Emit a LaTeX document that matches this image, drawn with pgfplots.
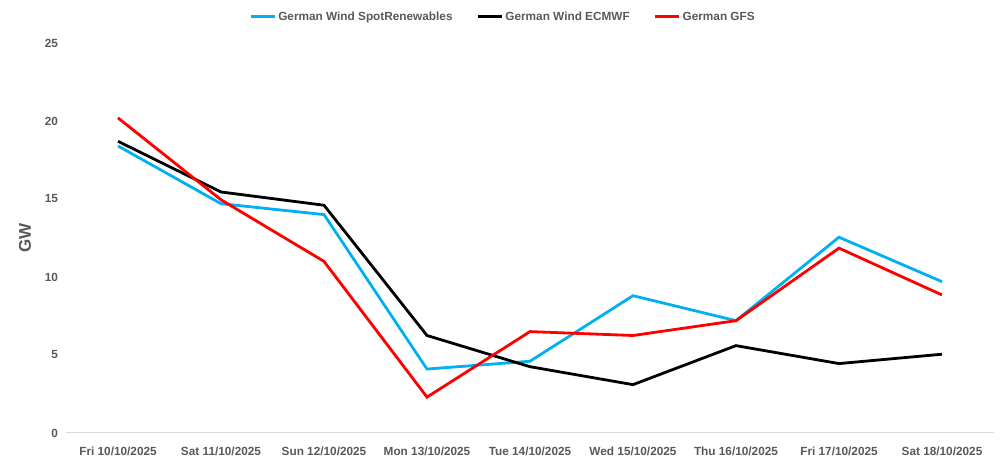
\documentclass[border=0pt]{standalone}
\usepackage{fontspec}
\setmainfont{Liberation Sans}
\usepackage{pgfplots}
\pgfplotsset{compat=1.18}
\definecolor{txtgray}{HTML}{595959}
\definecolor{spotblue}{HTML}{00B0F0}
\definecolor{basegray}{HTML}{D9D9D9}
\begin{document}
\begin{tikzpicture}
\begin{axis}[
    scale only axis,
    width=927pt, height=390pt,
    xmin=-0.5, xmax=8.5,
    ymin=0, ymax=25,
    xtick={0,...,8},
    xticklabels={Fri 10/10/2025,Sat 11/10/2025,Sun 12/10/2025,Mon 13/10/2025,Tue 14/10/2025,Wed 15/10/2025,Thu 16/10/2025,Fri 17/10/2025,Sat 18/10/2025},
    ytick={0,5,...,25},
    major tick length=0pt,
    axis lines*=left,
    y axis line style={draw=none},
    x axis line style={draw=basegray, line width=1pt},
    tick label style={font=\fontsize{11.8}{14}\selectfont\bfseries, text=txtgray},
    /pgf/number format/assume math mode=true,
    xticklabel style={yshift=-10pt},
    yticklabel style={xshift=-5pt},
    ylabel={GW},
    ylabel style={font=\fontsize{17}{20}\selectfont\bfseries, text=txtgray, at={(axis description cs:-0.0448,0.5)}, anchor=center},
    legend style={at={(0.471,1.067)}, anchor=center, draw=none, fill=none,
        legend columns=-1, font=\fontsize{11.8}{14}\selectfont\bfseries, text=txtgray,
        /tikz/every even column/.append style={column sep=22pt}},
    legend image code/.code={\draw[#1, line width=2.8pt] (0pt,0pt) -- (24pt,0pt);},
    every axis plot/.append style={line width=2.8pt, line join=miter},
]
\addplot[spotblue] coordinates {(0,18.4) (1,14.7) (2,14.0) (3,4.1) (4,4.6) (5,8.8) (6,7.2) (7,12.55) (8,9.7)};
\addlegendentry{German Wind SpotRenewables}
\addplot[black] coordinates {(0,18.7) (1,15.45) (2,14.6) (3,6.25) (4,4.25) (5,3.1) (6,5.6) (7,4.45) (8,5.05)};
\addlegendentry{German Wind ECMWF}
\addplot[red] coordinates {(0,20.2) (1,14.95) (2,11.0) (3,2.3) (4,6.5) (5,6.25) (6,7.2) (7,11.85) (8,8.85)};
\addlegendentry{German GFS}
\end{axis}
\pgfresetboundingbox
\path (current axis.south west) ++(-66.5pt,-30pt) rectangle ++(1005pt,463pt);
\end{tikzpicture}
\end{document}
